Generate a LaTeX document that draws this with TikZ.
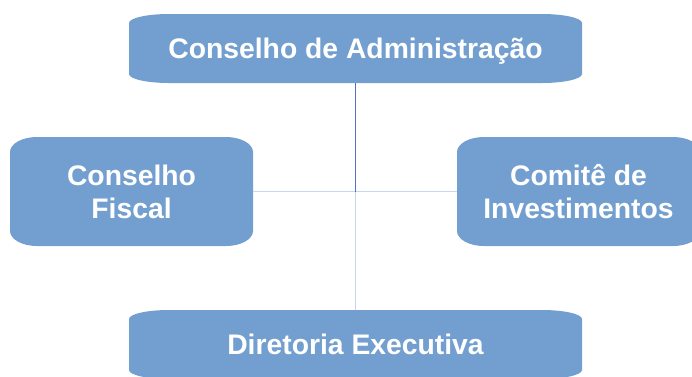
\documentclass[tikz,border=0pt]{standalone}
\usepackage{fontspec}
\setmainfont{Liberation Sans}
\usepackage{tikz}

\definecolor{boxblue}{HTML}{729FCF}
\definecolor{linedark}{HTML}{4F74BD}
\definecolor{linelight}{HTML}{C9D7EE}

\tikzset{
  corner rx/.store in=\cornerrx, corner rx=27pt,
  corner ry/.store in=\cornerry, corner ry=15pt,
  orgbox/.style={inner sep=0pt, align=center, text=white,
    font=\fontsize{28.3}{33}\selectfont\bfseries,
    path picture={
      \fill[boxblue] ([xshift=\cornerrx]path picture bounding box.north west)
        -- ([xshift=-\cornerrx]path picture bounding box.north east)
        arc[start angle=90, end angle=0, x radius=\cornerrx, y radius=\cornerry]
        -- ([yshift=\cornerry]path picture bounding box.south east)
        arc[start angle=0, end angle=-90, x radius=\cornerrx, y radius=\cornerry]
        -- ([xshift=\cornerrx]path picture bounding box.south west)
        arc[start angle=270, end angle=180, x radius=\cornerrx, y radius=\cornerry]
        -- ([yshift=-\cornerry]path picture bounding box.north west)
        arc[start angle=180, end angle=90, x radius=\cornerrx, y radius=\cornerry]
        -- cycle;
    }},
  widebox/.style={orgbox, minimum width=453pt, minimum height=69pt,
    text height=20.5pt, text depth=0pt,
    corner rx=40pt, corner ry=9pt},
  sidebox/.style={orgbox, minimum width=243pt, minimum height=109pt,
    corner rx=27pt, corner ry=15pt}
}

\begin{document}
\begin{tikzpicture}[x=1pt, y=-1pt]
\useasboundingbox (0,0) rectangle (692,376);

\node[widebox] (ca) at (355.5,48.5) {Conselho de Administração};
\node[sidebox] (cf) at (131.5,191.5) {Conselho\\Fiscal};
\node[sidebox] (ci) at (578.5,191.5) {Comitê de\\Investimentos};
\node[widebox] (de) at (355.5,344.5) {Diretoria Executiva};

\coordinate (meio) at (ca.south |- cf.east);
\draw[linelight, line width=1.2pt] (cf.east) -- (ci.west);
\draw[linelight, line width=1.2pt] (meio) -- (de.north);
\draw[linedark, line width=1pt] (ca.south) -- (meio);
\end{tikzpicture}
\end{document}
